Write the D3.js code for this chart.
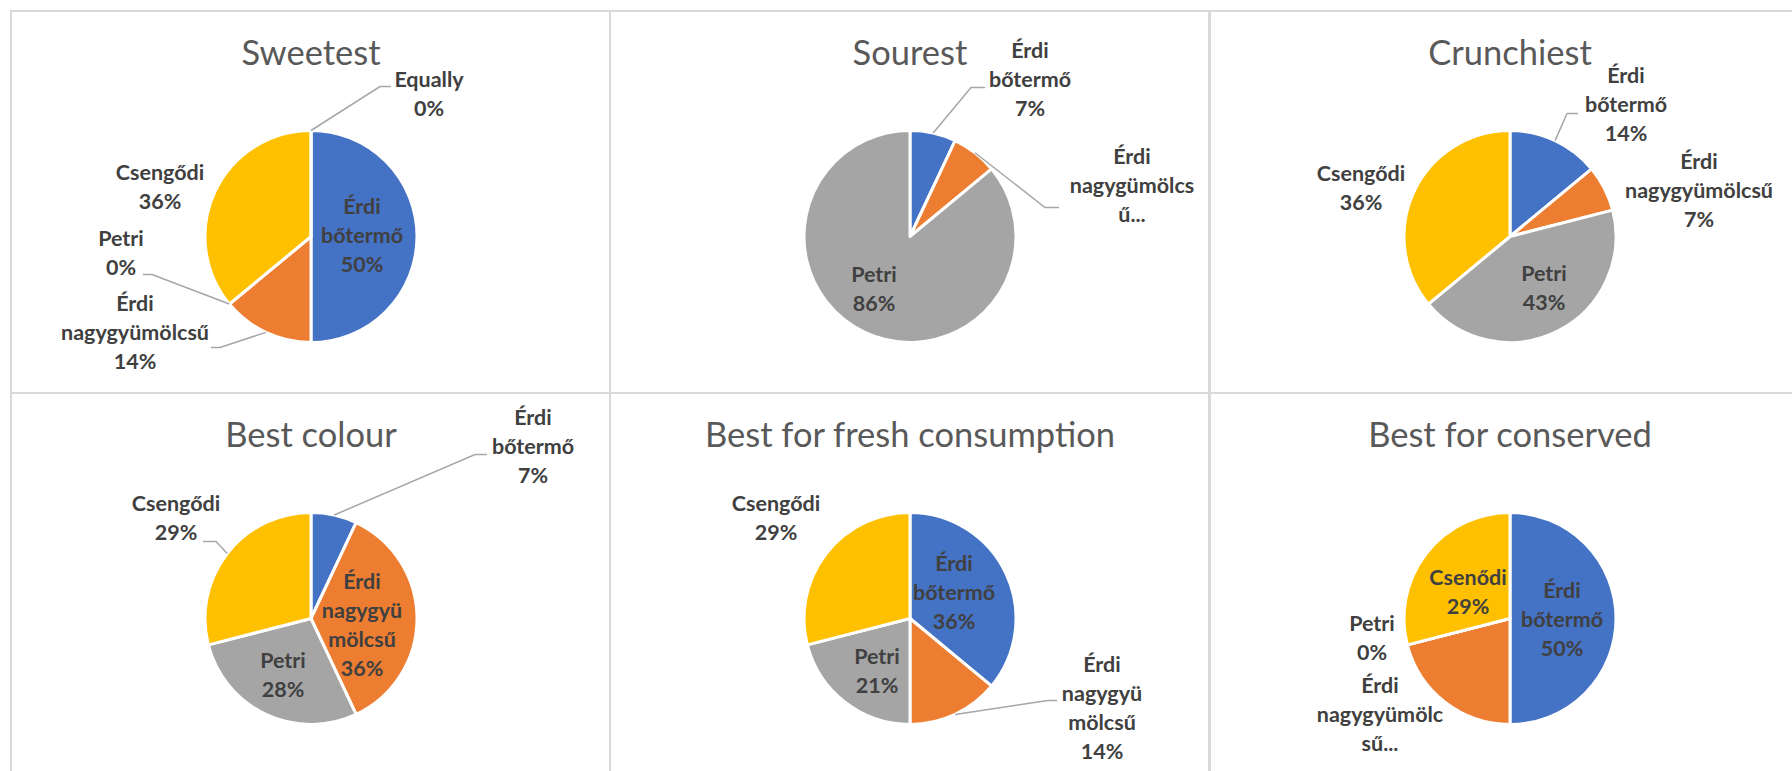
<!DOCTYPE html>
<html>
<head>
<meta charset="utf-8">
<title>Cherry varieties</title>
<script src="https://cdn.jsdelivr.net/npm/d3@7/dist/d3.min.js"></script>
<style>
  body { margin: 0; background: #fff; }
  svg { display: block; }
  text { font-family: Lato, "Open Sans", sans-serif; }
</style>
</head>
<body>
<svg width="1792" height="771" id="mainsvg"></svg>
<script>
// chart titles and categories
const TITLES = ['Sweetest', 'Sourest', 'Crunchiest', 'Best colour', 'Best for fresh consumption', 'Best for conserved'];
const CATEGORIES = ['Érdi bőtermő', 'Érdi nagygyümölcsű', 'Petri', 'Csengődi', 'Equally'];
const COLORS = ['#4472C4', '#ED7D31', '#A5A5A5', '#FFC000', '#5B9BD5'];

// shares in % (null = not in that chart)
const SWEETEST   = [50, 14, 0, 36, 0];
const SOUREST    = [7, 7, 86, null, null];
const CRUNCHIEST = [14, 7, 43, 36, null];
const COLOUR     = [7, 36, 28, 29, null];
const FRESH      = [36, 14, 21, 29, null];
const CONSERVED  = [50, 21, 0, 29, null];
const VALUES = [SWEETEST, SOUREST, CRUNCHIEST, COLOUR, FRESH, CONSERVED];

// label text as wrapped in the original; a line ending in '...' means the percent is cut off
const LABEL_LINES = [
  [['Érdi', 'bőtermő'], ['Érdi', 'nagygyümölcsű'], ['Petri'], ['Csengődi'], ['Equally']],
  [['Érdi', 'bőtermő'], ['Érdi', 'nagygümölcs', 'ű...'], ['Petri'], null, null],
  [['Érdi', 'bőtermő'], ['Érdi', 'nagygyümölcsű'], ['Petri'], ['Csengődi'], null],
  [['Érdi', 'bőtermő'], ['Érdi', 'nagygyü', 'mölcsű'], ['Petri'], ['Csengődi'], null],
  [['Érdi', 'bőtermő'], ['Érdi', 'nagygyü', 'mölcsű'], ['Petri'], ['Csengődi'], null],
  [['Érdi', 'bőtermő'], ['Érdi', 'nagygyümölc', 'sű...'], ['Petri'], ['Csenődi'], null]
];

// layout: label position (centre x, first baseline) relative to the pie centre,
// optional leader = [elbow dx, elbow dy, end dx]
const LABEL_POS = [
  [{dx: 51, dy: -23}, {dx: -176, dy: 74, leader: [-91, 111, -100]}, {dx: -190, dy: 9, leader: [-159, 38, -168]},
   {dx: -151, dy: -57}, {dx: 118, dy: -150, leader: [69, -150, 80]}],
  [{dx: 120, dy: -179, leader: [61, -149, 75]}, {dx: 222, dy: -73, leader: [135, -29, 149]}, {dx: -36, dy: 45}],
  [{dx: 116, dy: -154, leader: [57, -123, 68]}, {dx: 189, dy: -68}, {dx: 34, dy: 44}, {dx: -149, dy: -56}],
  [{dx: 222, dy: -194, leader: [164, -164, 176]}, {dx: 51, dy: -30}, {dx: -28, dy: 49},
   {dx: -135, dy: -108, leader: [-95, -77, -108]}],
  [{dx: 44, dy: -48}, {dx: 192, dy: 53, leader: [138, 82, 147]}, {dx: -33, dy: 45}, {dx: -134, dy: -108}],
  [{dx: 52, dy: -21}, {dx: -130, dy: 74}, {dx: -138, dy: 12}, {dx: -42, dy: -34}]
];

const svg = d3.select('#mainsvg');
const cellX = [11, 610, 1210];
const cellY = [11, 393];
const cellW = 599, cellH = 382;
const radius = 106;
const lineH = 29;

const pie = d3.pie().sort(null).value(d => d.value);
const arc = d3.arc().innerRadius(0).outerRadius(radius);
const edge = d3.arc().innerRadius(radius).outerRadius(radius);

TITLES.forEach((title, i) => {
  const x0 = cellX[i % 3], y0 = cellY[Math.floor(i / 3)];
  const cx = x0 + 300, cy = y0 + 225.5;

  svg.append('rect')
    .attr('x', x0).attr('y', y0).attr('width', cellW + (i % 3 === 2 ? 200 : 0)).attr('height', cellH + (i >= 3 ? 200 : 0))
    .attr('fill', 'none').attr('stroke', '#d9d9d9').attr('stroke-width', 2);

  svg.append('text')
    .attr('x', cx).attr('y', y0 + 54)
    .attr('text-anchor', 'middle')
    .attr('font-size', 34.5).attr('font-weight', 400).attr('fill', '#595959')
    .text(title);

  const rows = CATEGORIES.map((c, k) => ({key: c, k: k, value: VALUES[i][k]}))
    .filter(d => d.value !== null);
  const total = d3.sum(rows, d => d.value);
  const arcs = pie(rows);

  const g = svg.append('g').attr('transform', `translate(${cx}, ${cy})`);
  g.selectAll('.slice')
    .data(arcs).join('path')
    .attr('class', 'slice')
    .attr('d', arc)
    .attr('fill', d => COLORS[d.data.k])
    .attr('stroke', '#fff').attr('stroke-width', 3).attr('stroke-linejoin', 'round');

  arcs.forEach(d => {
    const pos = LABEL_POS[i][d.data.k];
    const lines = LABEL_LINES[i][d.data.k];
    if (!pos || !lines) return;
    const all = lines.slice();
    if (!lines[lines.length - 1].endsWith('...')) all.push(Math.round(d.data.value / total * 100) + '%');

    if (pos.leader) {
      const [sx, sy] = edge.centroid(d);
      const [ex, ey, hx] = pos.leader;
      g.append('polyline')
        .attr('points', `${sx},${sy} ${ex},${ey} ${hx},${ey}`)
        .attr('fill', 'none').attr('stroke', '#a6a6a6').attr('stroke-width', 1.5);
    }

    const t = g.append('text')
      .attr('text-anchor', 'middle')
      .attr('font-size', 21.5).attr('font-weight', 700).attr('fill', '#404040');
    all.forEach((s, j) => {
      t.append('tspan').attr('x', pos.dx).attr('y', pos.dy + j * lineH).text(s);
    });
  });
});
</script>
</body>
</html>
